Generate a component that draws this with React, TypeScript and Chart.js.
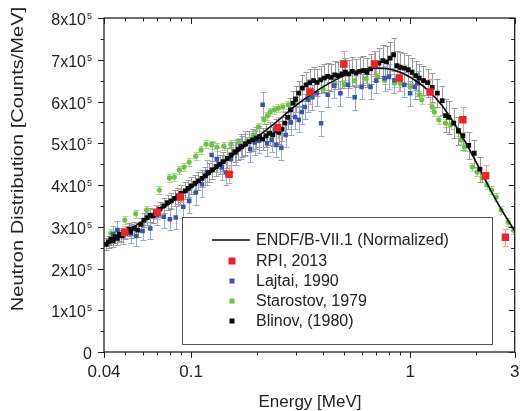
import React, { useEffect, useRef } from "react";
import { Chart, registerables } from "chart.js";

Chart.register(...registerables);

// ---------- axis definitions ----------
const UNIT = 1e5;
const X_MIN = 0.04;
const X_MAX = 3;
const Y_MIN = 0;
const Y_MAX = 8;

const xMajorTicks = [0.04, 0.1, 1, 3];
const xTickLabels = ["0.04", "0.1", "1", "3"];
const xMinorTicks = [0.05, 0.06, 0.07, 0.08, 0.09, 0.2, 0.3, 0.4, 0.5, 0.6, 0.7, 0.8, 0.9, 2];
const yMajorTicks = [0, 1, 2, 3, 4, 5, 6, 7, 8];
const yTickLabels = ["0", "1x10", "2x10", "3x10", "4x10", "5x10", "6x10", "7x10", "8x10"];
const yTickExponents = ["", "5", "5", "5", "5", "5", "5", "5", "5"];
const yMinorTicks = [0.5, 1.5, 2.5, 3.5, 4.5, 5.5, 6.5, 7.5];

const xTitle = "Energy [MeV]";
const yTitle = "Neutron Distribution [Counts/MeV]";

// ---------- data (values in units of 1e5 counts/MeV) ----------
const endfEnergy = [0.04, 0.05, 0.06, 0.07, 0.08, 0.09, 0.1, 0.12, 0.15, 0.2, 0.25, 0.3, 0.35, 0.4, 0.5, 0.6, 0.7, 0.8, 0.9, 1.0, 1.2, 1.4, 1.6, 1.8, 2.0, 2.2, 2.5, 2.8, 3.0];
const endfValue = [2.6, 2.88, 3.13, 3.36, 3.56, 3.76, 3.93, 4.25, 4.65, 5.15, 5.55, 5.9, 6.15, 6.35, 6.62, 6.76, 6.8, 6.78, 6.7, 6.58, 6.28, 5.9, 5.45, 5.0, 4.55, 4.12, 3.58, 3.15, 2.9];

// [energy MeV, value, error]
const rpiData: [number, number, number][] = [
  [0.0498, 2.87, 0.14], [0.0701, 3.35, 0.16], [0.0892, 3.71, 0.2], [0.149, 4.26, 0.22],
  [0.248, 5.37, 0.25], [0.349, 6.23, 0.3], [0.498, 6.9, 0.3], [0.687, 6.9, 0.3],
  [0.891, 6.56, 0.3], [1.233, 6.23, 0.3], [1.74, 5.56, 0.3], [2.21, 4.22, 0.25], [2.72, 2.75, 0.2],
];

const lajtaiData: [number, number, number][] = [
  [0.044, 2.82, 0.2], [0.046, 2.92, 0.22], [0.049, 2.78, 0.2], [0.053, 2.84, 0.22], [0.056, 2.78, 0.24],
  [0.06, 2.9, 0.22], [0.065, 2.96, 0.26], [0.07, 3.28, 0.24], [0.075, 3.24, 0.26], [0.08, 3.18, 0.26],
  [0.085, 3.22, 0.28], [0.092, 3.48, 0.28], [0.098, 3.62, 0.28], [0.105, 3.82, 0.3], [0.112, 4.02, 0.3],
  [0.118, 4.3, 0.3], [0.124, 4.72, 0.3], [0.131, 4.62, 0.3], [0.138, 4.42, 0.3], [0.144, 4.3, 0.3],
  [0.152, 4.62, 0.3], [0.16, 4.78, 0.3], [0.168, 4.92, 0.3], [0.177, 5.0, 0.3], [0.186, 4.86, 0.3],
  [0.195, 5.02, 0.3], [0.204, 5.06, 0.3], [0.212, 5.92, 0.3], [0.222, 5.0, 0.3], [0.233, 5.08, 0.3],
  [0.245, 4.96, 0.3], [0.258, 4.89, 0.3], [0.27, 5.2, 0.3], [0.285, 5.5, 0.3], [0.298, 5.63, 0.3],
  [0.31, 5.56, 0.3], [0.32, 5.75, 0.3], [0.33, 5.87, 0.3], [0.342, 6.04, 0.3], [0.358, 6.1, 0.3],
  [0.375, 6.2, 0.3], [0.392, 5.48, 0.3], [0.42, 6.16, 0.3], [0.45, 6.38, 0.3], [0.48, 6.2, 0.3],
  [0.52, 6.4, 0.3], [0.558, 6.1, 0.3], [0.6, 6.35, 0.3], [0.659, 6.35, 0.3], [0.7, 6.5, 0.3],
  [0.764, 6.56, 0.3], [0.8, 6.59, 0.3], [0.847, 6.51, 0.3], [0.9, 6.56, 0.3], [0.94, 6.4, 0.3],
  [1.0, 6.2, 0.3], [1.05, 6.35, 0.3], [1.08, 6.44, 0.3],
];

const starostovData: [number, number, number][] = [
  [0.043, 2.85, 0.1], [0.0498, 3.16, 0.1], [0.0558, 3.31, 0.1], [0.0626, 3.4, 0.1], [0.0716, 3.88, 0.1],
  [0.0796, 4.17, 0.1], [0.0838, 4.19, 0.1], [0.0883, 4.36, 0.1], [0.0929, 4.43, 0.1], [0.098, 4.55, 0.1],
  [0.105, 4.69, 0.1], [0.111, 4.84, 0.1], [0.117, 4.98, 0.1], [0.124, 4.96, 0.1], [0.131, 4.91, 0.1],
  [0.141, 4.93, 0.1], [0.152, 4.98, 0.1], [0.165, 5.02, 0.1], [0.18, 5.06, 0.1], [0.192, 5.2, 0.1],
  [0.203, 5.39, 0.1], [0.215, 5.56, 0.1], [0.223, 5.66, 0.1], [0.23, 5.75, 0.1], [0.24, 5.8, 0.1],
  [0.25, 5.84, 0.1], [0.262, 5.87, 0.1], [0.278, 5.92, 0.1], [0.3, 6.0, 0.1], [0.35, 6.15, 0.1],
  [0.4, 6.3, 0.1], [0.453, 6.44, 0.1], [0.5, 6.42, 0.1], [0.558, 6.5, 0.1], [0.63, 6.55, 0.1],
  [0.709, 6.59, 0.1], [0.764, 6.51, 0.1], [0.847, 6.44, 0.1], [0.9, 6.44, 0.1], [1.0, 6.35, 0.1],
  [1.1, 6.16, 0.1], [1.13, 6.04, 0.1], [1.26, 5.87, 0.1], [1.29, 5.75, 0.1], [1.35, 5.56, 0.1],
  [1.45, 5.48, 0.1], [1.53, 5.44, 0.1], [1.66, 5.27, 0.1], [1.71, 5.08, 0.1], [1.77, 4.91, 0.1],
  [1.92, 4.43, 0.1], [2.02, 4.31, 0.1], [2.13, 4.17, 0.1], [2.24, 4.0, 0.1], [2.35, 3.88, 0.1],
  [2.47, 3.71, 0.1], [2.6, 3.4, 0.1], [2.8, 3.11, 0.1], [2.96, 2.92, 0.1],
];

const blinovData: [number, number, number][] = [
  [0.041, 2.58, 0.14], [0.042, 2.64, 0.14], [0.043, 2.7, 0.14], [0.044, 2.66, 0.14], [0.045, 2.76, 0.15],
  [0.046, 2.72, 0.15], [0.047, 2.82, 0.15], [0.048, 2.78, 0.15], [0.05, 2.86, 0.15], [0.052, 2.94, 0.15],
  [0.053, 2.88, 0.15], [0.055, 2.96, 0.16], [0.057, 2.92, 0.16], [0.059, 3.06, 0.16], [0.061, 3.16, 0.16],
  [0.063, 3.22, 0.17], [0.065, 3.28, 0.17], [0.067, 3.26, 0.17], [0.069, 3.36, 0.17], [0.072, 3.42, 0.18],
  [0.075, 3.5, 0.18], [0.078, 3.58, 0.18], [0.081, 3.62, 0.19], [0.084, 3.68, 0.19], [0.087, 3.74, 0.19],
  [0.09, 3.8, 0.2], [0.094, 3.86, 0.2], [0.097, 3.92, 0.2], [0.1, 3.98, 0.2], [0.104, 4.04, 0.21],
  [0.108, 4.1, 0.21], [0.112, 4.16, 0.21], [0.116, 4.22, 0.22], [0.12, 4.3, 0.22], [0.125, 4.36, 0.22],
  [0.13, 4.44, 0.23], [0.135, 4.5, 0.23], [0.14, 4.56, 0.23], [0.146, 4.64, 0.24], [0.152, 4.72, 0.24],
  [0.158, 4.8, 0.24], [0.164, 4.86, 0.25], [0.17, 4.92, 0.25], [0.177, 4.98, 0.25], [0.184, 5.04, 0.26],
  [0.191, 5.08, 0.26], [0.198, 5.12, 0.26], [0.205, 5.16, 0.26], [0.212, 5.1, 0.26], [0.22, 5.18, 0.27],
  [0.228, 5.24, 0.27], [0.236, 5.2, 0.27], [0.244, 5.3, 0.27], [0.252, 5.26, 0.27], [0.26, 5.34, 0.28],
  [0.268, 5.48, 0.28], [0.276, 5.62, 0.29], [0.284, 5.8, 0.29], [0.292, 5.96, 0.3], [0.3, 6.06, 0.3],
  [0.31, 6.2, 0.3], [0.322, 6.32, 0.31], [0.335, 6.4, 0.31], [0.348, 6.45, 0.32], [0.362, 6.5, 0.32],
  [0.376, 6.46, 0.32], [0.39, 6.52, 0.32], [0.405, 6.56, 0.33], [0.42, 6.6, 0.33], [0.436, 6.58, 0.33],
  [0.452, 6.64, 0.33], [0.47, 6.62, 0.33], [0.488, 6.66, 0.34], [0.506, 6.7, 0.34], [0.525, 6.66, 0.34],
  [0.545, 6.72, 0.34], [0.566, 6.68, 0.34], [0.588, 6.72, 0.34], [0.61, 6.74, 0.35], [0.635, 6.7, 0.35],
  [0.66, 6.78, 0.35], [0.69, 6.86, 0.36], [0.72, 6.92, 0.36], [0.75, 6.98, 0.37], [0.78, 6.95, 0.37],
  [0.81, 7.04, 0.38], [0.84, 7.12, 0.4], [0.87, 6.86, 0.36], [0.9, 6.82, 0.36], [0.94, 6.8, 0.35],
  [0.98, 6.76, 0.35], [1.02, 6.7, 0.35], [1.06, 6.62, 0.35], [1.1, 6.56, 0.35], [1.15, 6.5, 0.34],
  [1.2, 6.45, 0.34], [1.26, 6.34, 0.34], [1.33, 6.2, 0.34], [1.4, 6.02, 0.34], [1.45, 5.66, 0.4],
  [1.5, 5.62, 0.4], [1.58, 5.48, 0.36], [1.66, 5.3, 0.34], [1.74, 5.18, 0.34], [1.85, 4.95, 0.32],
  [1.96, 4.76, 0.32], [2.08, 4.38, 0.3],
];

const legendLabels = [
  "ENDF/B-VII.1 (Normalized)",
  "RPI, 2013",
  "Lajtai, 1990",
  "Starostov, 1979",
  "Blinov, (1980)",
];

// ---------- styles ----------
const FONT = '"Liberation Sans", Arial, Helvetica, sans-serif';
const RED = "#e8262a";
const BLUE = "#3a56a6";
const GREEN = "#72c044";
const BLACK = "#0a0a0a";
const AXIS = "#222222";

const errorSeries = [
  { data: starostovData, color: "#a9d891" },
  { data: lajtaiData, color: "#95a8d6" },
  { data: blinovData, color: "#9a9a9a" },
  { data: rpiData, color: "#f29a9a" },
];

const toPoints = (d: [number, number, number][]) => d.map(([e, v]) => ({ x: e, y: v * UNIT }));

const decorPlugin = {
  id: "decor",
  beforeDatasetsDraw(chart: any) {
    const { ctx, chartArea: a, scales } = chart;
    const xs = scales.x;
    const ys = scales.y;
    ctx.save();
    ctx.beginPath();
    ctx.rect(a.left, a.top, a.right - a.left, a.bottom - a.top);
    ctx.clip();
    ctx.lineWidth = 1;
    errorSeries.forEach(({ data, color }) => {
      ctx.strokeStyle = color;
      ctx.beginPath();
      data.forEach(([e, v, err]) => {
        const px = Math.round(xs.getPixelForValue(e)) + 0.5;
        const top = Math.round(ys.getPixelForValue((v + err) * UNIT)) + 0.5;
        const bot = Math.round(ys.getPixelForValue((v - err) * UNIT)) + 0.5;
        ctx.moveTo(px, top);
        ctx.lineTo(px, bot);
        ctx.moveTo(px - 3, top);
        ctx.lineTo(px + 3, top);
        ctx.moveTo(px - 3, bot);
        ctx.lineTo(px + 3, bot);
      });
      ctx.stroke();
    });
    ctx.restore();
  },
  afterDraw(chart: any) {
    const { ctx, chartArea: a, scales } = chart;
    const xs = scales.x;
    const ys = scales.y;
    ctx.save();

    // frame
    ctx.strokeStyle = AXIS;
    ctx.lineWidth = 1.3;
    ctx.strokeRect(a.left, a.top, a.right - a.left, a.bottom - a.top);

    // ticks
    ctx.lineWidth = 1;
    ctx.beginPath();
    const xTick = (v: number, len: number) => {
      const px = Math.round(xs.getPixelForValue(v)) + 0.5;
      ctx.moveTo(px, a.bottom);
      ctx.lineTo(px, a.bottom + len);
      ctx.moveTo(px, a.top);
      ctx.lineTo(px, a.top + len);
    };
    const yTick = (v: number, len: number) => {
      const py = Math.round(ys.getPixelForValue(v * UNIT)) + 0.5;
      ctx.moveTo(a.left - len, py);
      ctx.lineTo(a.left, py);
      ctx.moveTo(a.right - len, py);
      ctx.lineTo(a.right, py);
    };
    xMajorTicks.forEach((v) => xTick(v, 6));
    xMinorTicks.forEach((v) => xTick(v, 3.5));
    yMajorTicks.forEach((v) => yTick(v, 6));
    yMinorTicks.forEach((v) => yTick(v, 3.5));
    ctx.stroke();

    // x tick labels
    ctx.fillStyle = "#222";
    ctx.font = `17px ${FONT}`;
    ctx.textAlign = "center";
    ctx.textBaseline = "alphabetic";
    xMajorTicks.forEach((v, i) => {
      ctx.fillText(xTickLabels[i], xs.getPixelForValue(v), a.bottom + 25);
    });

    // y tick labels with superscript exponent
    const labelRight = a.left - 12;
    yMajorTicks.forEach((v, i) => {
      const py = ys.getPixelForValue(v * UNIT);
      ctx.font = `9px ${FONT}`;
      const expW = yTickExponents[i] ? ctx.measureText(yTickExponents[i]).width + 1 : 0;
      if (yTickExponents[i]) {
        ctx.textAlign = "left";
        ctx.fillText(yTickExponents[i], labelRight - expW + 1, py + 1);
      }
      ctx.font = `16px ${FONT}`;
      ctx.textAlign = "right";
      ctx.fillText(yTickLabels[i], labelRight - expW, py + 7);
    });

    // axis titles
    ctx.font = `17px ${FONT}`;
    ctx.textAlign = "center";
    ctx.fillText(xTitle, 310, 407);
    ctx.save();
    ctx.translate(23, 159);
    ctx.rotate(-Math.PI / 2);
    ctx.scale(1.18, 1);
    ctx.fillText(yTitle, 0, 0);
    ctx.restore();

    // legend
    const lx = a.left + 78;
    const ly = a.top + 199;
    ctx.fillStyle = "#fff";
    ctx.fillRect(lx, ly, 310, 127);
    ctx.strokeStyle = "#555";
    ctx.lineWidth = 1;
    ctx.strokeRect(lx + 0.5, ly + 0.5, 310, 127);
    const rowY = [ly + 23, ly + 44, ly + 64, ly + 84, ly + 104];
    const mx = lx + 50;
    ctx.strokeStyle = BLACK;
    ctx.lineWidth = 1.5;
    ctx.beginPath();
    ctx.moveTo(lx + 30, rowY[0]);
    ctx.lineTo(lx + 68, rowY[0]);
    ctx.stroke();
    const markers = [
      { c: RED, s: 7 },
      { c: BLUE, s: 5 },
      { c: GREEN, s: 5 },
      { c: BLACK, s: 5 },
    ];
    markers.forEach((m, i) => {
      ctx.fillStyle = m.c;
      ctx.fillRect(mx - m.s / 2, rowY[i + 1] - m.s / 2, m.s, m.s);
    });
    ctx.fillStyle = "#222";
    ctx.font = `16px ${FONT}`;
    ctx.textAlign = "left";
    ctx.textBaseline = "middle";
    legendLabels.forEach((t, i) => {
      ctx.fillText(t, lx + 74, rowY[i] + 1);
    });

    ctx.restore();
  },
};

export default function App() {
  const ref = useRef<HTMLCanvasElement | null>(null);

  useEffect(() => {
    document.body.style.margin = "0";
    const canvas = ref.current;
    if (!canvas) return;
    const chart = new Chart(canvas, {
      type: "scatter",
      data: {
        datasets: [
          {
            label: legendLabels[1],
            data: toPoints(rpiData),
            pointStyle: "rect",
            pointRadius: 5.3,
            backgroundColor: RED,
            borderColor: RED,
            borderWidth: 0,
            order: 1,
          },
          {
            label: legendLabels[0],
            data: endfEnergy.map((e, i) => ({ x: e, y: endfValue[i] * UNIT })),
            showLine: true,
            borderColor: BLACK,
            borderWidth: 1.6,
            pointRadius: 0,
            tension: 0.4,
            cubicInterpolationMode: "monotone",
            fill: false,
            order: 2,
          },
          {
            label: legendLabels[4],
            data: toPoints(blinovData),
            pointStyle: "rect",
            pointRadius: 3.4,
            backgroundColor: BLACK,
            borderColor: BLACK,
            borderWidth: 0,
            order: 3,
          },
          {
            label: legendLabels[2],
            data: toPoints(lajtaiData),
            pointStyle: "rect",
            pointRadius: 3.2,
            backgroundColor: BLUE,
            borderColor: BLUE,
            borderWidth: 0,
            order: 4,
          },
          {
            label: legendLabels[3],
            data: toPoints(starostovData),
            pointStyle: "circle",
            pointRadius: 2.6,
            backgroundColor: GREEN,
            borderColor: GREEN,
            borderWidth: 0,
            order: 5,
          },
        ],
      } as any,
      options: {
        animation: false,
        responsive: false,
        devicePixelRatio: 1,
        events: [],
        layout: { padding: { left: 104, right: 2, top: 18, bottom: 59 } },
        plugins: { legend: { display: false }, tooltip: { enabled: false } },
        scales: {
          x: { type: "logarithmic", min: X_MIN, max: X_MAX, display: false },
          y: { type: "linear", min: Y_MIN * UNIT, max: Y_MAX * UNIT, display: false },
        },
      } as any,
      plugins: [decorPlugin],
    });
    return () => chart.destroy();
  }, []);

  return <canvas ref={ref} width={520} height={411} style={{ display: "block" }} />;
}
